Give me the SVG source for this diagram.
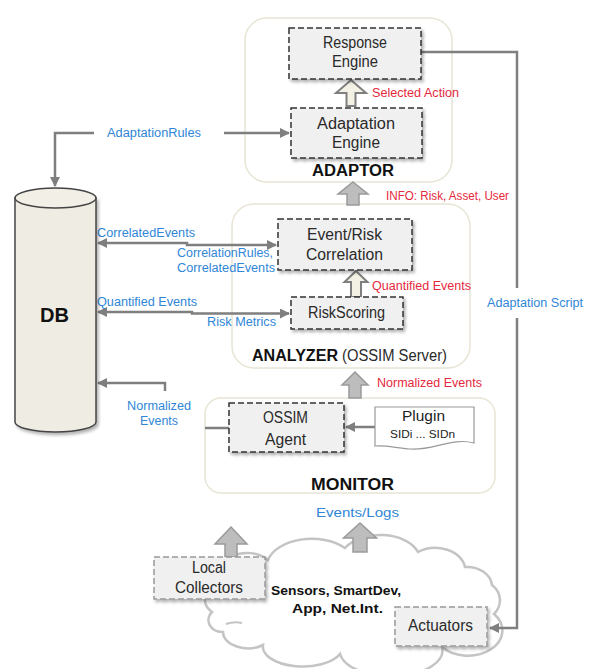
<svg xmlns="http://www.w3.org/2000/svg" width="591" height="669" viewBox="0 0 591 669">
<defs>
<style>
text{font-family:"Liberation Sans",Arial,sans-serif;}
.cont{fill:#fff;stroke:#e8e5d5;stroke-width:1.5}
.box{fill:#f0f0f0;stroke:#333;stroke-width:1.5;stroke-dasharray:6 3}
.lbox{fill:#f0f0f0;stroke:#999;stroke-width:1.5;stroke-dasharray:6 3}
.nt{font-size:16px;fill:#2a2a2a}
.bl{font-size:12px;fill:#2f86d6}
.rd{font-size:12px;fill:#e5283c}
.bd{font-weight:bold;fill:#111}
.ln{fill:none;stroke:#7f7f7f;stroke-width:2.5}
.garr{fill:#bdbdbd;stroke:#9a9a9a;stroke-width:1.5}
.harr{fill:#f3f1e4;stroke:#7f7f7f;stroke-width:2}
</style>
<filter id="sh" x="-10%" y="-10%" width="130%" height="140%">
<feDropShadow dx="2" dy="2.5" stdDeviation="1.5" flood-color="#000" flood-opacity="0.3"/>
</filter>
<marker id="ah" viewBox="0 0 10 10" refX="9" refY="5" markerWidth="4" markerHeight="4" orient="auto-start-reverse">
<path d="M0,0 L10,5 L0,10 Z" fill="#7f7f7f"/>
</marker>
</defs>

<g id="adaptor">
<rect class="cont" x="245" y="18" width="207" height="164" rx="22"/>
<text class="bd" x="312" y="176" font-size="16" textLength="82" lengthAdjust="spacingAndGlyphs">ADAPTOR</text>
</g>
<g id="analyzer">
<rect class="cont" x="232" y="204" width="238" height="164" rx="22"/>
<text class="bd" x="252" y="361" font-size="16" textLength="86" lengthAdjust="spacingAndGlyphs">ANALYZER</text>
<text class="nt" x="342" y="361" textLength="105" lengthAdjust="spacingAndGlyphs">(OSSIM Server)</text>
</g>
<g id="monitor">
<rect class="cont" x="205" y="398" width="290" height="95" rx="16"/>
<text class="bd" x="311" y="490" font-size="16" textLength="83" lengthAdjust="spacingAndGlyphs">MONITOR</text>
</g>

<g id="cloud">
<path d="M212,612 A18,16 0 0 1 218,584 A30,25 0 0 1 268,560 A45,28 0 0 1 345,548 A40,25 0 0 1 418,552 A30,22 0 0 1 465,567 A25,20 0 0 1 492,585 A22,20 0 0 1 494,614 A30,22 0 0 1 442,647 A50,25 0 0 1 340,654 A40,20 0 0 1 263,645 A25,16 0 0 1 223,632 A14,12 0 0 1 212,612 Z" fill="#fff" stroke="#c4c4c4" stroke-width="2.5"/>
<path d="M226,624 q8,-3 16,-1" fill="none" stroke="#c4c4c4" stroke-width="2"/>
<text class="bd" x="271" y="595" font-size="13" textLength="130" lengthAdjust="spacingAndGlyphs">Sensors, SmartDev,</text>
<text class="bd" x="292" y="613" font-size="13" textLength="91" lengthAdjust="spacingAndGlyphs">App, Net.Int.</text>
</g>

<g id="connectors">
<polyline class="ln" points="94,133 55,133 55,186" marker-end="url(#ah)"/>
<line class="ln" x1="224" y1="133" x2="289" y2="133" marker-end="url(#ah)"/>
<polyline class="ln" points="98,243 187,243 187,245 276,245" marker-start="url(#ah)" marker-end="url(#ah)"/>
<polyline class="ln" points="98,312 192,312 192,313.5 289,313.5" marker-start="url(#ah)" marker-end="url(#ah)"/>
<polyline class="ln" points="165,391 165,383 98,383" marker-end="url(#ah)"/>
<line class="ln" x1="205" y1="428" x2="229" y2="428"/>
<line class="ln" x1="375" y1="427" x2="346" y2="427" marker-end="url(#ah)"/>
<polyline class="ln" points="421,52 517,52 517,288"/>
<polyline class="ln" points="517,318 517,628 490,628" marker-end="url(#ah)"/>
<path class="harr" d="M351,80 L366,93 L355.5,93 L355.5,106 L346.5,106 L346.5,93 L336,93 Z"/>
<path class="garr" d="M353,182 L368,194 L359,194 L359,205 L347,205 L347,194 L338,194 Z"/>
<path class="harr" d="M356,271 L367.5,282 L361,282 L361,297 L351,297 L351,282 L344.5,282 Z"/>
<path class="garr" d="M355,372 L368,385 L361,385 L361,398 L349,398 L349,385 L342,385 Z"/>
<path class="garr" d="M231,527 L247,544 L237,544 L237,557 L225,557 L225,544 L215,544 Z"/>
<path class="garr" d="M360,523 L376.5,538 L367,538 L367,552 L353,552 L353,538 L343.5,538 Z"/>
<text class="rd" x="372" y="97" textLength="87" lengthAdjust="spacingAndGlyphs">Selected Action</text>
<text class="rd" x="386" y="200" textLength="123" lengthAdjust="spacingAndGlyphs">INFO: Risk, Asset, User</text>
<text class="bl" x="107" y="137" textLength="94" lengthAdjust="spacingAndGlyphs">AdaptationRules</text>
<text class="bl" x="97" y="237" textLength="98" lengthAdjust="spacingAndGlyphs">CorrelatedEvents</text>
<text class="bl" x="177" y="257" textLength="96" lengthAdjust="spacingAndGlyphs">CorrelationRules,</text>
<text class="bl" x="177" y="272" textLength="98" lengthAdjust="spacingAndGlyphs">CorrelatedEvents</text>
<text class="bl" x="97" y="306" textLength="100" lengthAdjust="spacingAndGlyphs">Quantified Events</text>
<text class="bl" x="207" y="326" textLength="69" lengthAdjust="spacingAndGlyphs">Risk Metrics</text>
<text class="bl" x="127" y="410" textLength="64" lengthAdjust="spacingAndGlyphs">Normalized</text>
<text class="bl" x="140" y="425" textLength="38" lengthAdjust="spacingAndGlyphs">Events</text>
<text class="rd" x="372" y="290" textLength="99" lengthAdjust="spacingAndGlyphs">Quantified Events</text>
<text class="bl" x="487" y="307" textLength="96" lengthAdjust="spacingAndGlyphs">Adaptation Script</text>
<text class="rd" x="377" y="387" textLength="105" lengthAdjust="spacingAndGlyphs">Normalized Events</text>
<text class="bl" x="316" y="517" font-size="15" textLength="83" lengthAdjust="spacingAndGlyphs">Events/Logs</text>
</g>

<g id="db">
<path d="M15,198 L15,422 A40.5,10 0 0 0 96,422 L96,198 Z" fill="#efede3" stroke="#444" stroke-width="1.5" filter="url(#sh)"/>
<ellipse cx="55.5" cy="198" rx="40.5" ry="10" fill="#f2f0e6" stroke="#444" stroke-width="1.5"/>
<text class="bd" x="40" y="322" font-size="20" textLength="29" lengthAdjust="spacingAndGlyphs">DB</text>
</g>

<g id="response-engine">
<rect class="box" x="289" y="28" width="132" height="51" filter="url(#sh)"/>
<text class="nt" x="323" y="48" textLength="64" lengthAdjust="spacingAndGlyphs">Response</text>
<text class="nt" x="332" y="67" textLength="46" lengthAdjust="spacingAndGlyphs">Engine</text>
</g>
<g id="adaptation-engine">
<rect class="box" x="291" y="108" width="131" height="50" filter="url(#sh)"/>
<text class="nt" x="317" y="129" textLength="78" lengthAdjust="spacingAndGlyphs">Adaptation</text>
<text class="nt" x="332" y="148" textLength="48" lengthAdjust="spacingAndGlyphs">Engine</text>
</g>
<g id="event-risk-correlation">
<rect class="box" x="278" y="219" width="134" height="51" filter="url(#sh)"/>
<text class="nt" x="307" y="240" textLength="75" lengthAdjust="spacingAndGlyphs">Event/Risk</text>
<text class="nt" x="306" y="260" textLength="77" lengthAdjust="spacingAndGlyphs">Correlation</text>
</g>
<g id="risk-scoring">
<rect class="box" x="291" y="297" width="112" height="32" filter="url(#sh)"/>
<text class="nt" x="308" y="318" textLength="77" lengthAdjust="spacingAndGlyphs">RiskScoring</text>
</g>
<g id="ossim-agent">
<rect class="box" x="229" y="403" width="115" height="49" filter="url(#sh)"/>
<text class="nt" x="263" y="423" textLength="45" lengthAdjust="spacingAndGlyphs">OSSIM</text>
<text class="nt" x="265" y="445" textLength="41" lengthAdjust="spacingAndGlyphs">Agent</text>
</g>
<g id="plugin">
<path d="M375,407 H474 V443 C452,437 432,451 410,449 C396,448 386,445 375,446 Z" fill="#fff" stroke="#999" stroke-width="1.2"/>
<text x="402" y="421" font-size="15" fill="#222" textLength="43" lengthAdjust="spacingAndGlyphs">Plugin</text>
<text x="390" y="438" font-size="11" fill="#222" textLength="65" lengthAdjust="spacingAndGlyphs">SIDi ... SIDn</text>
</g>
<g id="local-collectors">
<rect class="lbox" x="154" y="557" width="111" height="42" filter="url(#sh)"/>
<text class="nt" x="192" y="573" textLength="34" lengthAdjust="spacingAndGlyphs">Local</text>
<text class="nt" x="175" y="593" textLength="68" lengthAdjust="spacingAndGlyphs">Collectors</text>
</g>
<g id="actuators">
<rect class="lbox" x="395" y="607" width="92" height="39" filter="url(#sh)"/>
<text class="nt" x="408" y="631" textLength="65" lengthAdjust="spacingAndGlyphs">Actuators</text>
</g>
</svg>
